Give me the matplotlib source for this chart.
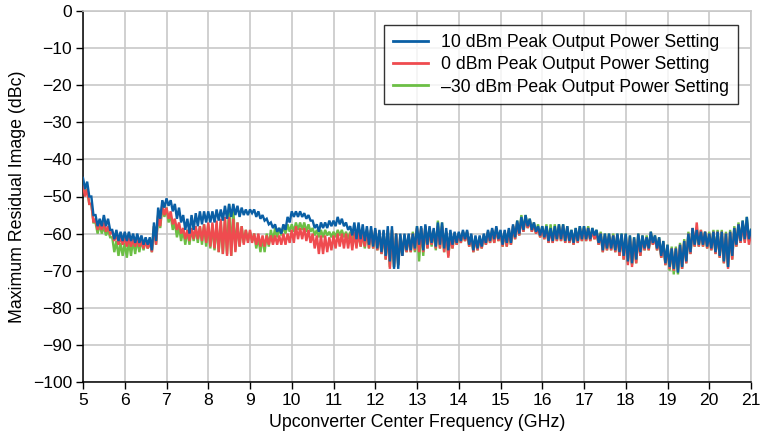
import matplotlib
matplotlib.use("Agg")
import matplotlib.pyplot as plt
import numpy as np

plt.rcParams.update({"font.family": ["Liberation Sans", "DejaVu Sans"], "font.size": 12.6})

# frequency grid (GHz), 0.1 GHz steps from 5 to 21
freq = np.round(np.arange(5.0, 21.0001, 0.1), 2)

# upper / lower envelope of each trace (dBc), every 0.1 GHz
blue_hi = [-45, -46, -50, -55, -56, -55, -56, -59, -59, -59.5,
           -59.5, -59.5, -60, -60, -60.5, -61, -61, -57, -53, -51,
           -50.5, -51, -52, -53, -55, -56, -55, -54.5, -54, -54,
           -54, -54, -53.5, -53.5, -52.5, -52, -52, -52.5, -53, -53.5,
           -53.5, -53.5, -54, -55, -56, -57, -57.5, -58.5, -57.5, -55.5,
           -54, -54, -54, -54.5, -55, -56.5, -57.5, -57, -57, -56.5,
           -56.5, -55.5, -56, -57, -58, -57, -57, -57.5, -58, -58,
           -58.5, -59, -59, -58, -58, -60, -60, -60, -60, -60,
           -58, -58, -57.5, -58, -58.5, -57, -57, -58.5, -59, -59.5,
           -59.5, -59, -59, -60, -60.5, -60.5, -60, -59, -58.5, -58,
           -59, -59, -58.5, -57.5, -56.5, -55.5, -55, -56, -57, -58,
           -58, -58, -58.5, -58, -57.5, -57.5, -58, -59, -58.5, -58,
           -58, -58.5, -58.5, -59, -60, -60, -60, -60.5, -60, -60,
           -60, -60.5, -61, -60, -60.5, -61, -59.5, -60.5, -61, -62,
           -63, -64, -64, -63, -62, -60, -58.5, -59, -59.5, -59.5,
           -60, -59.5, -59.5, -59.5, -60, -59.5, -58.5, -57.5, -56.5, -55.5,
           -59]
blue_lo = [-48, -50, -55, -58, -58, -58, -59, -61.5, -62, -62,
           -62, -62, -62.5, -62.5, -63, -63, -64.5, -62, -56, -53,
           -52.5, -54, -56, -57, -59, -60, -59, -58, -57.5, -57,
           -57, -57, -56.5, -56.5, -56, -55.5, -55, -55.5, -55, -55,
           -54.5, -55.5, -56, -56.5, -57.5, -58.5, -59.5, -60, -59, -57,
           -55.5, -55.5, -55.5, -56, -56.5, -58.5, -59.5, -58.5, -58.5, -58,
           -58, -57.5, -58, -59, -60.5, -61.5, -61.5, -62, -63, -63.5,
           -64, -65, -66, -67.5, -69.5, -69.5, -66, -64.5, -64.5, -64,
           -63, -64.5, -63, -62.5, -63.5, -63, -64, -64.5, -63, -62.5,
           -62, -61.5, -63, -64.5, -64, -63.5, -62.5, -62, -61.5, -61.5,
           -63, -62.5, -62.5, -61, -60, -59, -58, -59, -59.5, -60.5,
           -61, -62, -62, -61.5, -61.5, -62, -62, -62.5, -62, -61.5,
           -61.5, -61.5, -60.5, -62.5, -64.5, -64, -64, -64.5, -65, -66,
           -67.5, -68, -67, -65, -64, -64, -62.5, -64, -66, -68,
           -69, -69.5, -70.5, -69, -67.5, -65, -63, -63, -63, -63.5,
           -64, -65, -66, -67.5, -69, -66, -63, -62, -61.5, -61.5,
           -66]

red_hi = [-47, -48, -52, -56, -57, -57, -58, -59.5, -60, -61,
          -61, -61, -61.5, -61.5, -62, -62, -62, -58, -55, -52,
          -53, -54, -56, -57, -58.5, -59, -58.5, -58, -58, -57.5,
          -57, -57, -56.5, -56, -55.5, -55.5, -56, -57, -58, -59,
          -59, -60, -60, -60.5, -60.5, -60.5, -60.5, -60.5, -60, -60,
          -59, -58, -58.5, -58.5, -59, -60, -60.5, -60.5, -60.5, -61,
          -60.5, -60, -60, -60, -60, -59.5, -59.5, -60, -59, -59,
          -59, -59.5, -59.5, -59, -59, -60, -60.5, -60.5, -60.5, -60,
          -58.5, -58.5, -58, -58.5, -59, -58, -58, -59.5, -60, -60,
          -60, -59.5, -59.5, -60.5, -61, -61, -60.5, -59.5, -59, -58.5,
          -59.5, -59.5, -59, -58, -57, -56, -55.5, -56.5, -57.5, -58.5,
          -58.5, -58.5, -59, -58.5, -58, -58, -58.5, -59.5, -59, -58.5,
          -58.5, -58.5, -59, -59.5, -60, -60.5, -60.5, -60.5, -60.5, -60.5,
          -60.5, -61, -61.5, -60.5, -61, -61, -60, -61, -61.5, -62.5,
          -63.5, -64, -64, -63, -62, -60, -58.5, -57, -59, -59.5,
          -60, -59.5, -59.5, -59.5, -60, -59.5, -58.5, -57.5, -57, -57,
          -60]
red_lo = [-50, -52, -57, -59, -59, -59.5, -60, -62, -63, -63,
          -63.5, -63.5, -63.5, -63.5, -64, -64, -65, -63, -58, -55,
          -56, -57.5, -59, -60, -61.5, -62, -61.5, -61.5, -62, -62.5,
          -63.5, -64, -65, -65.5, -66, -66, -65, -63.5, -63, -62.5,
          -62.5, -63, -63.5, -63.5, -63, -63, -63, -63, -63, -62.5,
          -62.5, -61.5, -61.5, -62, -62.5, -64, -65.5, -65.5, -65, -64.5,
          -64, -63.5, -64, -64, -64.5, -64, -63.5, -63.5, -64, -64,
          -64.5, -65.5, -67, -69.5, -69, -68.5, -66, -65, -65, -64.5,
          -65, -65, -64, -63, -64, -64, -65, -66.5, -64, -63,
          -62.5, -62, -63.5, -65, -64.5, -64, -63, -62.5, -62.5, -62,
          -63.5, -63.5, -63, -61.5, -60.5, -59.5, -58.5, -59.5, -60, -61,
          -61.5, -62.5, -62.5, -62, -62, -62.5, -62.5, -63, -62.5, -62,
          -62, -62, -61.5, -63, -65, -64.5, -64.5, -65, -66, -67,
          -68.5, -69, -68, -66, -64.5, -64.5, -63, -64.5, -66.5, -68.5,
          -69.5, -70, -70, -69.5, -68, -65.5, -63.5, -63.5, -63.5, -64,
          -64.5, -65.5, -66.5, -68, -69.5, -67, -63.5, -62.5, -62.5, -63,
          -66.5]

green_hi = [-47, -48, -52, -57, -57.5, -58, -59, -61, -62, -62.5,
            -62.5, -62, -61.5, -61.5, -61.5, -61.5, -62, -58, -55, -52.5,
            -53, -55, -57, -58, -59, -59, -58.5, -58.5, -58, -57.5,
            -57.5, -57.5, -57.5, -57, -56, -52, -53, -57, -58, -59,
            -59.5, -60, -61, -61, -60, -59, -58.5, -58.5, -58, -57.5,
            -57.5, -57, -57, -57, -57.5, -58.5, -59, -59, -59, -59.5,
            -59.5, -59, -59, -59.5, -59.5, -60, -60, -60, -59, -59,
            -59, -59.5, -59.5, -59, -59, -60, -60.5, -60.5, -60.5, -59.5,
            -58, -58.5, -58, -58.5, -59, -56.5, -57, -59.5, -60, -60,
            -60, -59.5, -59.5, -60.5, -61, -61, -60.5, -59.5, -59, -58.5,
            -59.5, -59.5, -59, -58, -56.5, -55, -55, -56, -57, -57.5,
            -58, -57.5, -57.5, -57.5, -57.5, -57.5, -58, -59, -58.5, -58,
            -58, -58, -58.5, -59, -59.5, -60, -60, -60, -60, -60,
            -60, -60.5, -61, -60, -60.5, -60.5, -59.5, -60.5, -61, -62,
            -63, -63.5, -63.5, -62.5, -61.5, -59.5, -58.5, -58.5, -59, -59.5,
            -59.5, -59, -59, -59, -59.5, -59, -58, -57, -56.5, -55.5,
            -59]
green_lo = [-49, -52, -57, -60, -60, -60.5, -61, -65, -66, -66,
            -66.5, -66, -65.5, -65, -64.5, -64, -65, -63, -58.5, -55.5,
            -57, -59, -61, -62, -63, -63, -62, -62.5, -63, -63.5,
            -64, -64.5, -65, -65.5, -65.5, -66, -64.5, -63.5, -62.5, -62,
            -62, -64, -65, -65, -63.5, -62, -61, -60.5, -60, -59.5,
            -59.5, -59, -59, -59.5, -59.5, -60.5, -61, -61, -60.5, -61,
            -61, -60.5, -61, -61.5, -62, -63, -63.5, -64, -64, -64,
            -64.5, -65.5, -67, -69, -69, -68.5, -66, -65, -65, -65,
            -67.5, -66, -64, -63.5, -64.5, -64, -65, -66, -64, -63,
            -62.5, -62, -63.5, -65, -64.5, -64, -63, -62.5, -62.5, -62,
            -63.5, -63.5, -63, -61.5, -60.5, -59.5, -58.5, -59.5, -60, -61,
            -61.5, -62.5, -62.5, -62, -62, -62.5, -62.5, -63, -62.5, -62,
            -62, -62, -61.5, -63, -65, -64.5, -64.5, -65, -66, -67,
            -68, -68.5, -68, -66, -64.5, -64.5, -63, -64.5, -66.5, -68.5,
            -70, -71, -71, -69.5, -68, -65.5, -63.5, -63.5, -63.5, -64,
            -64.5, -65.5, -66.5, -68, -69, -67, -63.5, -62.5, -62, -62,
            -65.5]

labels = ["10 dBm Peak Output Power Setting",
          "0 dBm Peak Output Power Setting",
          "\u201330 dBm Peak Output Power Setting"]
colors = ["#0a5fa5", "#ef4b4f", "#6cbf45"]


def zigzag(hi, lo):
    # alternate upper and lower envelope so the trace looks like the dense noisy record
    x = np.empty(2 * len(freq))
    y = np.empty(2 * len(freq))
    x[0::2] = freq
    x[1::2] = freq + 0.05
    y[0::2] = hi
    y[1::2] = lo
    keep = x <= 21.0
    return x[keep], y[keep]


fig = plt.figure(figsize=(7.63, 4.41), dpi=100)
ax = fig.add_axes([83 / 763, 1 - 382 / 441, 668 / 763, 371 / 441])

series = [(blue_hi, blue_lo), (red_hi, red_lo), (green_hi, green_lo)]
handles = []
for z, ((hi, lo), c, lab) in zip([3, 2, 1], zip(series, colors, labels)):
    x, y = zigzag(hi, lo)
    h, = ax.plot(x, y, color=c, lw=1.7, label=lab, zorder=z + 2,
                 solid_joinstyle="miter")
    handles.append(h)

ax.set_xlim(5, 21)
ax.set_ylim(-100, 0)
ax.set_xticks(np.arange(5, 22, 1))
ax.set_yticks(np.arange(-100, 1, 10))
ax.set_yticklabels([str(v).replace("-", "\u2212") for v in range(-100, 1, 10)])
ax.grid(True, color="#c8c8c8", lw=1.2, zorder=0)
ax.set_axisbelow(True)
ax.tick_params(direction="out", length=5, width=1, colors="black", labelsize=12.6, pad=3)
for s in ["top", "right"]:
    ax.spines[s].set_color("#c8c8c8")
    ax.spines[s].set_linewidth(1.2)
for s in ["left", "bottom"]:
    ax.spines[s].set_linewidth(1.1)

ax.set_xlabel("Upconverter Center Frequency (GHz)", fontsize=12.8, labelpad=4)
ax.set_ylabel("Maximum Residual Image (dBc)", fontsize=12.8, labelpad=5)

leg = ax.legend(handles=handles, loc="upper right", bbox_to_anchor=(0.980, 0.962),
                fontsize=12.7, frameon=True, fancybox=False, handlelength=2.0,
                borderpad=0.5, labelspacing=0.3, handletextpad=0.7,
                borderaxespad=0)
leg.get_frame().set_edgecolor("black")
leg.get_frame().set_linewidth(1.0)
leg.set_zorder(10)
for ln in leg.get_lines():
    ln.set_linewidth(2)

fig.savefig("out.png", dpi=100)
